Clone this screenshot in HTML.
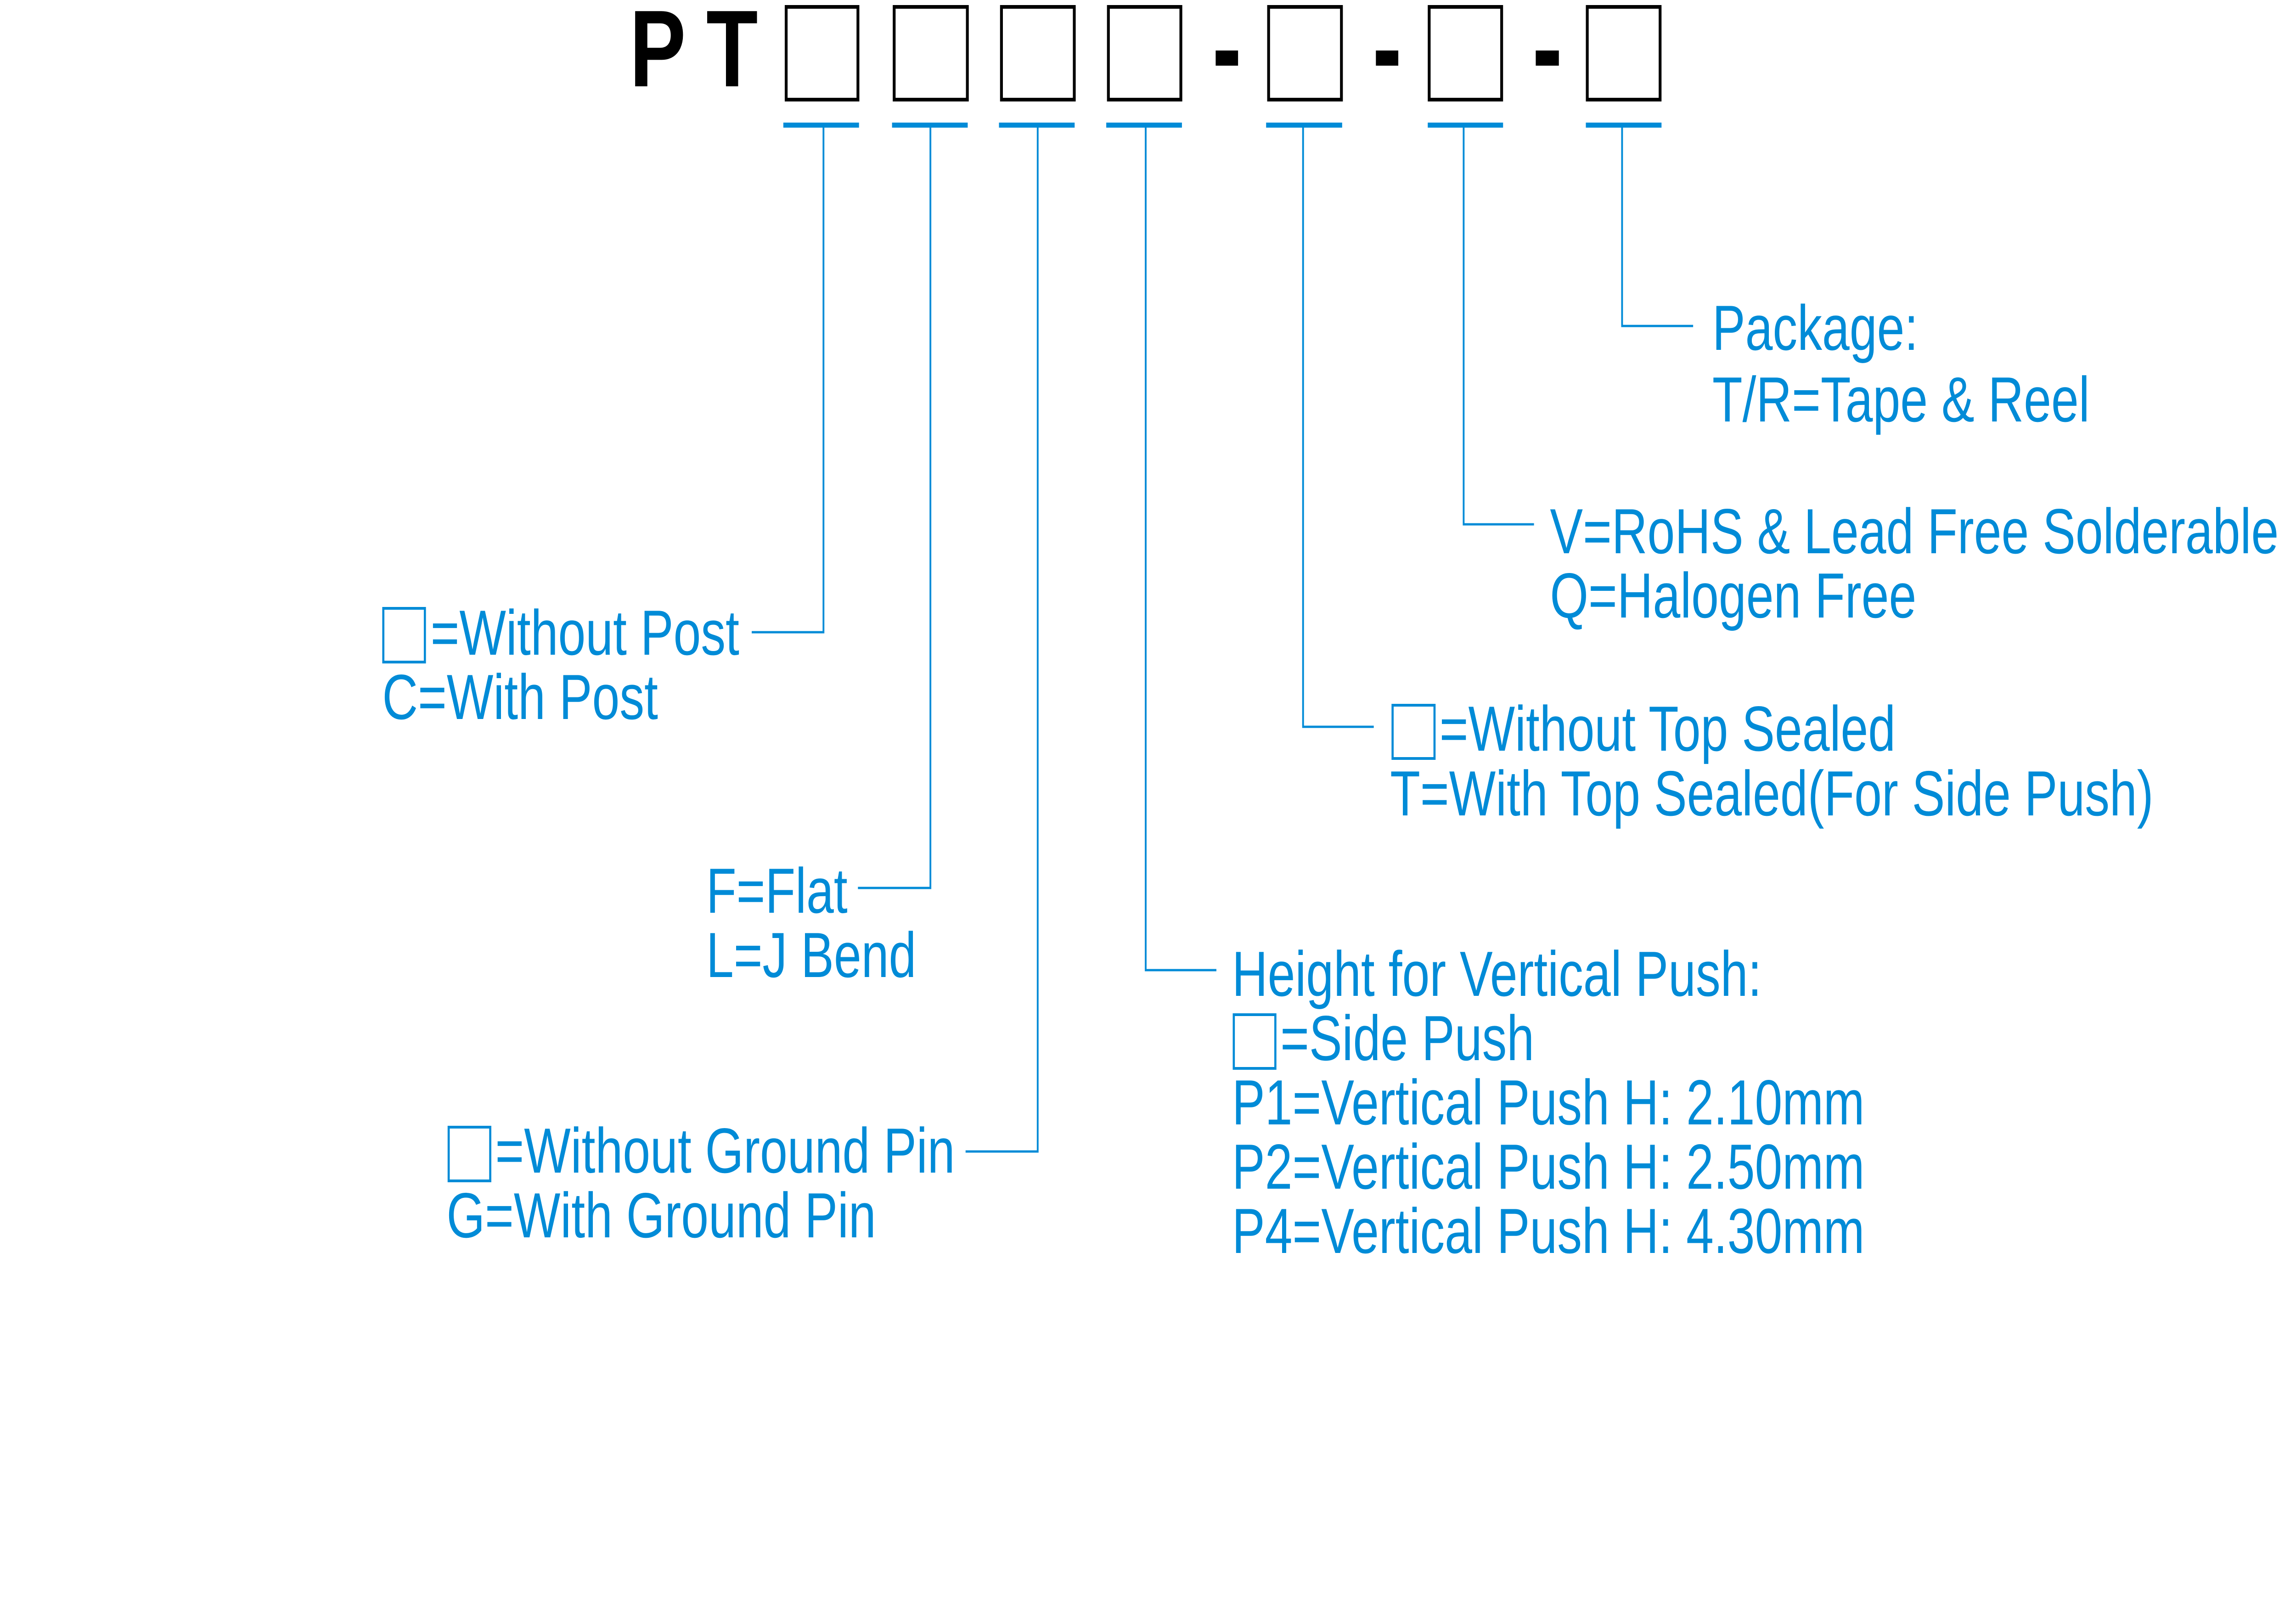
<!DOCTYPE html>
<html><head><meta charset="utf-8"><style>
html,body{margin:0;padding:0;background:#fff;overflow:hidden;width:100vw;height:100vh;}
svg{display:block;width:100vw;height:100vh;}
text{font-family:"Liberation Sans",Arial,sans-serif;}
</style></head><body>
<svg viewBox="0 0 6463 3511" preserveAspectRatio="none" xmlns="http://www.w3.org/2000/svg">
<rect width="6463" height="3511" fill="#fff"/>
<text x="1772" y="188" font-size="238" font-weight="bold" fill="#000">P</text>
<text x="1988" y="188" font-size="238" font-weight="bold" fill="#000">T</text>
<g fill="none" stroke="#000" stroke-width="8">
<rect x="2213" y="15" width="202" height="202"/>
<rect x="2517" y="15" width="206" height="202"/>
<rect x="2819" y="15" width="205" height="202"/>
<rect x="3120" y="15" width="204" height="202"/>
<rect x="3571" y="15" width="205" height="202"/>
<rect x="4023" y="15" width="204" height="202"/>
<rect x="4468" y="15" width="205" height="202"/>
</g>
<g fill="#000">
<rect x="3422" y="110" width="63" height="33"/>
<rect x="3873" y="110" width="63" height="33"/>
<rect x="4323" y="110" width="65" height="33"/>
</g>
<g fill="#008bd7">
<rect x="2205" y="267" width="213" height="11"/>
<rect x="2511" y="267" width="213" height="11"/>
<rect x="2812" y="267" width="213" height="11"/>
<rect x="3114" y="267" width="213" height="11"/>
<rect x="3564" y="267" width="214" height="11"/>
<rect x="4019" y="267" width="212" height="11"/>
<rect x="4464" y="267" width="213" height="11"/>
</g>
<g fill="none" stroke="#008bd7" stroke-width="5">
<polyline points="2318,278 2318,1377 2116,1377"/>
<polyline points="2619,278 2619,1934 2415,1934"/>
<polyline points="2921,278 2921,2508 2718,2508"/>
<polyline points="3225,278 3225,2113 3424,2113"/>
<polyline points="3668,278 3668,1583 3867,1583"/>
<polyline points="4120,278 4120,1142 4318,1142"/>
<polyline points="4566,278 4566,710 4766,710"/>
</g>
<g fill="none" stroke="#008bd7" stroke-width="6">
<rect x="1079" y="1325" width="117" height="117"/>
<rect x="1263" y="2455" width="117" height="117"/>
<rect x="3920" y="1536" width="118" height="116"/>
<rect x="3473" y="2210" width="117" height="117"/>
</g>
<g font-size="139" fill="#008bd7">
<text x="1212" y="1426">=Without Post</text>
<text x="1076" y="1566">C=With Post</text>
<text x="1988" y="1988">F=Flat</text>
<text x="1988" y="2128">L=J Bend</text>
<text x="1394" y="2554">=Without Ground Pin</text>
<text x="1257" y="2695">G=With Ground Pin</text>
<text x="3468" y="2169">Height for Vertical Push:</text>
<text x="3604" y="2309">=Side Push</text>
<text x="3468" y="2449">P1=Vertical Push H: 2.10mm</text>
<text x="3468" y="2589">P2=Vertical Push H: 2.50mm</text>
<text x="3468" y="2729">P4=Vertical Push H: 4.30mm</text>
<text x="4052" y="1635">=Without Top Sealed</text>
<text x="3913" y="1776">T=With Top Sealed(For Side Push)</text>
<text x="4363" y="1205">V=RoHS &amp; Lead Free Solderable</text>
<text x="4363" y="1345">Q=Halogen Free</text>
<text x="4820" y="762">Package:</text>
<text x="4820" y="918">T/R=Tape &amp; Reel</text>
</g>
</svg>
</body></html>
